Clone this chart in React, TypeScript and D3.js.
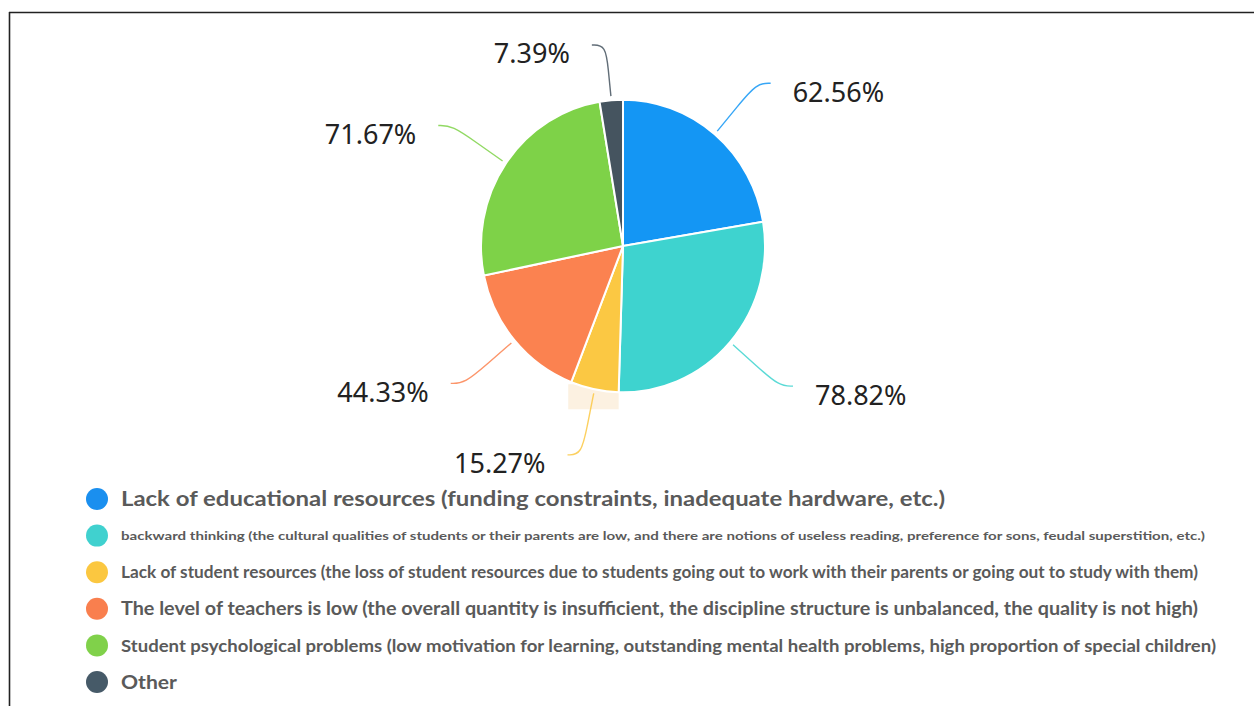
import React from "react";
import * as d3 from "d3";

const categories = [
  "Lack of educational resources (funding constraints, inadequate hardware, etc.)",
  "backward thinking (the cultural qualities of students or their parents are low, and there are notions of useless reading, preference for sons, feudal superstition, etc.)",
  "Lack of student resources (the loss of student resources due to students going out to work with their parents or going out to study with them)",
  "The level of teachers is low (the overall quantity is insufficient, the discipline structure is unbalanced, the quality is not high)",
  "Student psychological problems (low motivation for learning, outstanding mental health problems, high proportion of special children)",
  "Other",
];
const values = [62.56, 78.82, 15.27, 44.33, 71.67, 7.39];
const sliceColors = ["#1496f4", "#3ed3cf", "#fbc843", "#fb8250", "#7ed248", "#45545f"];
const legendColors = ["#1a8fef", "#40d1cf", "#fbc740", "#f97f4e", "#80d14a", "#465a68"];

// legend styling (font sizes, target widths)
const legendFont = [21, 12, 17.5, 18, 17.5, 19.5];
const legendWidth = [824, 1084, 1077, 1077, 1095, 56];

const W = 1254;
const H = 706;
const cx = 623;
const cy = 246;
const R = 142;
const sy = 1.03;

export default function App() {
  const pie = d3.pie<number>().sort(null).value((d) => d);
  const arcs = pie(values);
  const arcGen = d3.arc<d3.PieArcDatum<number>>().innerRadius(0).outerRadius(R);

  const polar = (a: number, r: number): [number, number] => [
    cx + Math.sin(a) * r,
    cy - Math.cos(a) * r * sy,
  ];

  const lineGen = d3.line().curve(d3.curveBasis);

  const legendY = d3.scalePoint<number>().domain(d3.range(categories.length)).range([499, 682]);

  // yellow (third) slice hover highlight
  const ya = arcs[2];
  const yx0 = polar(ya.endAngle, R)[0];
  const yx1 = polar(ya.startAngle, R)[0];

  return (
    <svg width={W} height={H} style={{ position: "absolute", left: 0, top: 0, background: "#fff" }}>
      <rect x={0} y={0} width={W} height={H} fill="#fff" />
      <line x1={9} y1={12.5} x2={W} y2={12.5} stroke="#222" strokeWidth={1.6} />
      <line x1={9.5} y1={12} x2={9.5} y2={H} stroke="#222" strokeWidth={1.6} />

      <rect x={yx0 - 3} y={cy + R * sy - 8} width={yx1 - yx0 + 3} height={25} fill="#fcefdc" opacity={0.85} />

      <g transform={`translate(${cx},${cy}) scale(1,${sy})`}>
        {arcs.map((a, i) => (
          <path key={i} d={arcGen(a) || ""} fill={sliceColors[i]} stroke="#fff" strokeWidth={2} strokeLinejoin="round" />
        ))}
      </g>

      {arcs.map((a, i) => {
        const mid = (a.startAngle + a.endAngle) / 2;
        const side = Math.sin(mid) >= 0 ? 1 : -1;
        const p0 = polar(mid, R + 4);
        const p1 = polar(mid, R + 65);
        if (p1[1] < 45) p1[1] = 45;
        const p2: [number, number] = [p1[0] + side * 14, p1[1]];
        const pm: [number, number] = [(p0[0] + p1[0]) / 2, (p0[1] + p1[1]) / 2];
        return (
          <g key={i}>
            <path d={lineGen([p0, pm, p1, p2]) || ""} fill="none" stroke={sliceColors[i]} strokeWidth={1.4} opacity={0.85} />
            <text
              x={p2[0] + side * 22}
              y={p2[1] + 9}
              dy="0.35em"
              textAnchor={side > 0 ? "start" : "end"}
              fontFamily="'Noto Sans', 'Open Sans', sans-serif"
              fontWeight={400}
              fontSize={27}
              fill="#222"
            >
              {values[i].toFixed(2)}%
            </text>
          </g>
        );
      })}

      {categories.map((c, i) => (
        <g key={i} transform={`translate(0,${legendY(i)})`}>
          <circle cx={97} cy={0} r={11} fill={legendColors[i]} />
          <text
            x={121}
            y={0}
            dy="0.35em"
            fontFamily="Lato, 'Noto Sans', sans-serif"
            fontWeight={700}
            fontSize={legendFont[i]}
            fill="#5a5a5a"
            textLength={legendWidth[i]}
            lengthAdjust="spacingAndGlyphs"
          >
            {c}
          </text>
        </g>
      ))}
    </svg>
  );
}
